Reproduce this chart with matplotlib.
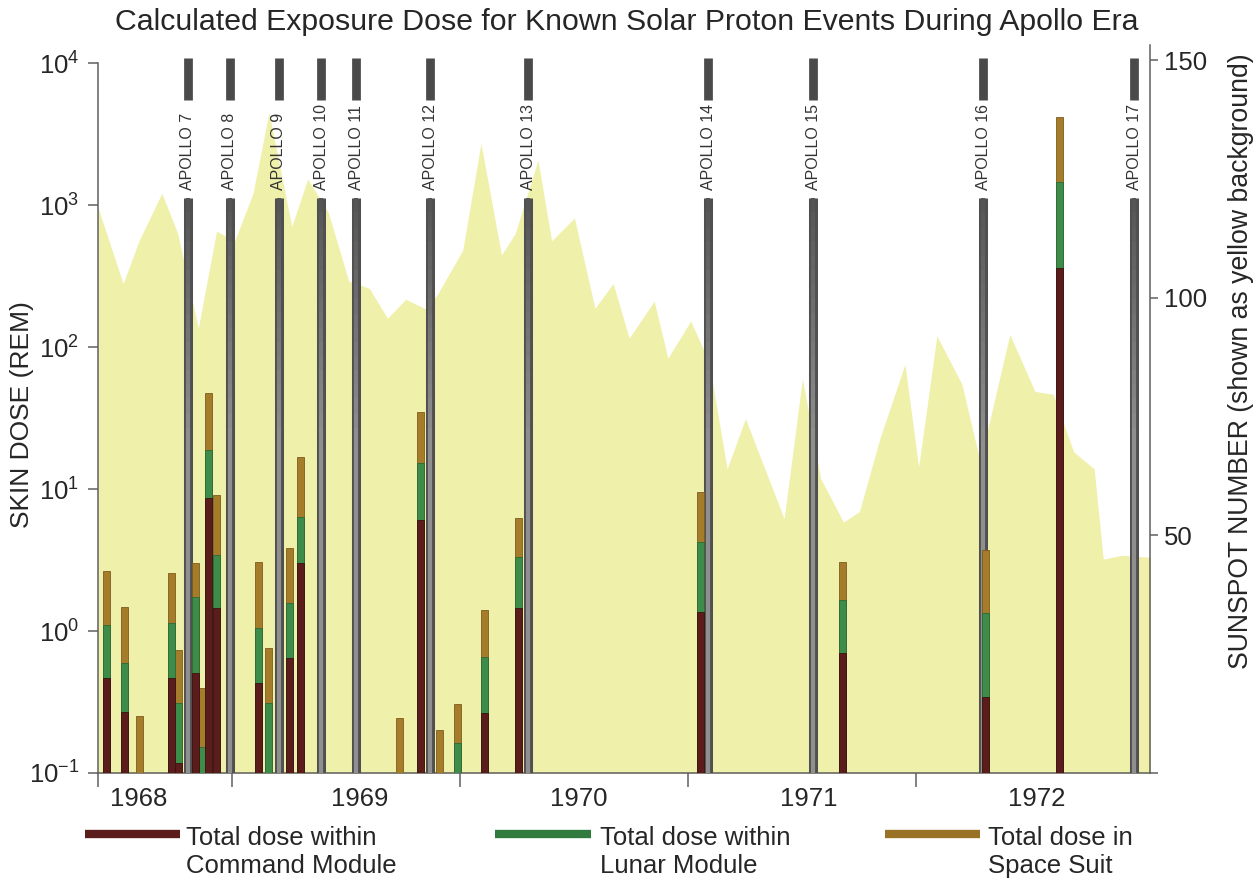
import numpy as np
import matplotlib
matplotlib.use("Agg")
import matplotlib.pyplot as plt
from matplotlib.lines import Line2D
from matplotlib.ticker import NullLocator

plt.rcParams['font.family'] = ['Liberation Sans', 'DejaVu Sans']

# Sunspot number (yellow background)
sun_year = [1968.41, 1968.52, 1968.59, 1968.69, 1968.76, 1968.85, 1968.93, 1969.01,
            1969.09, 1969.16, 1969.26, 1969.33, 1969.42, 1969.51, 1969.60, 1969.68,
            1969.76, 1969.85, 1969.90, 1970.01, 1970.09, 1970.18, 1970.24, 1970.34,
            1970.40, 1970.50, 1970.59, 1970.67, 1970.74, 1970.85, 1970.91, 1971.01,
            1971.09, 1971.17, 1971.25, 1971.42, 1971.50, 1971.58, 1971.68, 1971.75,
            1971.84, 1971.95, 1972.01, 1972.09, 1972.20, 1972.28, 1972.41, 1972.52,
            1972.60, 1972.69, 1972.78, 1972.82, 1972.90, 1973.03]
sun_num = [119, 103, 112, 122, 113.5, 93.6, 114, 112,
           122, 139, 115, 125, 118, 103.5, 102, 95.7,
           99.7, 97.6, 100.8, 110, 132.5, 109, 113.5, 129,
           112, 116.8, 97.8, 103, 91.5, 99.3, 87.3, 95.1,
           86.6, 64, 74.6, 53.5, 83, 62, 52.8, 55,
           70.4, 86, 64.4, 92, 81.8, 65.5, 92.3, 80.3,
           79.7, 67.6, 64, 45, 45.8, 45.4]

# Solar proton events: skin dose (REM); nan = below the axis
event_year = [1968.447, 1968.526, 1968.592, 1968.732, 1968.763, 1968.838, 1968.868,
              1968.895, 1968.930, 1969.114, 1969.158, 1969.250, 1969.298, 1969.732,
              1969.825, 1969.908, 1969.987, 1970.105, 1970.254, 1971.053, 1971.675,
              1972.303, 1972.627]
dose_cm = [0.47, 0.27, np.nan, 0.47, 0.117, 0.51, np.nan,
           8.65, 1.45, 0.43, np.nan, 0.645, 3.01, np.nan,
           6.05, np.nan, np.nan, 0.265, 1.45, 1.36, 0.70,
           0.343, 360]
dose_lm = [1.10, 0.60, np.nan, 1.14, 0.31, 1.73, 0.152,
           18.8, 3.43, 1.05, 0.31, 1.57, 6.35, np.nan,
           15.2, np.nan, 0.163, 0.656, 3.32, 4.24, 1.65,
           1.34, 1452]
dose_suit = [2.65, 1.48, 0.25, 2.56, 0.73, 3.0, 0.40,
             47.4, 9.07, 3.06, 0.76, 3.85, 16.8, 0.244,
             34.8, 0.20, 0.306, 1.41, 6.25, 9.5, 3.06,
             3.72, 4170]

mission_names = ["APOLLO 7", "APOLLO 8", "APOLLO 9", "APOLLO 10", "APOLLO 11", "APOLLO 12",
                 "APOLLO 13", "APOLLO 14", "APOLLO 15", "APOLLO 16", "APOLLO 17"]
mission_year = [1968.803, 1968.987, 1969.202, 1969.390, 1969.544, 1969.868,
                1970.298, 1971.088, 1971.548, 1972.294, 1972.956]

year_ticks = [1968.41, 1969, 1970, 1971, 1972]
year_labels = ["1968", "1969", "1970", "1971", "1972"]
year_label_pos = [1968.59, 1969.56, 1970.52, 1971.53, 1972.53]

legend_labels = ["Total dose within\nCommand Module", "Total dose within\nLunar Module",
                 "Total dose in\nSpace Suit"]

c_cm, c_lm, c_suit = '#5b1c1c', '#3d8c4a', '#a57c2a'
c_yellow = '#eff0aa'
c_axis = '#5f5f5f'
c_text = '#262626'

W, H = 1257, 882
fig = plt.figure(figsize=(W / 100, H / 100), dpi=100)
ax = fig.add_axes([98 / W, 109 / H, 1052 / W, 728 / H])
ax2 = ax.twinx()
ax.set_zorder(ax2.get_zorder() + 1)
ax.patch.set_visible(False)

# sunspot background on the right axis
ax2.fill_between(sun_year, sun_num, 0, color=c_yellow, lw=0)
ax2.set_ylim(0, 153.2)
ax2.set_yticks([0, 50, 100, 150])
ax2.set_yticklabels(['', '50', '100', '150'])

ax.set_yscale('log')
ax.set_ylim(0.1, 10 ** 4.127)
ax.set_xlim(1968.41, 1973.025)
ax.set_yticks([0.1, 1, 10, 100, 1000, 10000])
ax.set_yticklabels([r'$\mathregular{10^{-1}}$', r'$\mathregular{10^{0}}$', r'$\mathregular{10^{1}}$',
                    r'$\mathregular{10^{2}}$', r'$\mathregular{10^{3}}$', r'$\mathregular{10^{4}}$'])
ax.yaxis.set_minor_locator(NullLocator())

# mission markers
xt = ax.get_xaxis_transform()
n_seg = 40
for name, t in zip(mission_names, mission_year):
    ax.axvline(t, 0.9245, 0.982, color='#4a4a4a', lw=6.3, solid_capstyle='butt', zorder=3)
    ax.axvline(t, 0, 0.79, color='#505050', lw=6.5, solid_capstyle='butt', zorder=3)
    for i in range(n_seg):
        f0 = i / n_seg * 0.79
        f1 = (i + 1) / n_seg * 0.79
        k = np.clip((f0 - 0.45) / 0.34, 0, 1)
        g = 0.56 * (1 - k) + 0.32 * k
        ax.axvline(t, f0, f1, color=(g, g, g), lw=3.0, solid_capstyle='butt', zorder=3.1)
    ax.text(t, 0.801, name, transform=xt, rotation=90, ha='center', va='bottom',
            fontsize=11.5, color='#333333', zorder=5)

# dose bars (suit > lunar module > command module)
ev = np.array(event_year)
base = 0.01
for vals, col, ec in [(dose_suit, c_suit, '#7d5c1c'), (dose_lm, c_lm, '#2c6a37'),
                      (dose_cm, c_cm, '#3f1010')]:
    v = np.array(vals, dtype=float)
    m = ~np.isnan(v)
    ax.bar(ev[m], v[m] - base, bottom=base, width=0.031, color=col,
           edgecolor=ec, lw=0.6, zorder=4)

# x axis: year boundaries as ticks, year names in between
ax.set_xticks(year_ticks)
ax.set_xticklabels([''] * len(year_ticks))
ax.set_xticks(year_label_pos, minor=True)
ax.set_xticklabels(year_labels, minor=True)
ax.tick_params(axis='x', which='major', direction='out', length=10, width=1.1, color=c_axis)
ax.tick_params(axis='x', which='minor', length=0, pad=10, labelsize=18.5, labelcolor=c_text)
ax.tick_params(axis='y', which='major', direction='out', length=7.5, width=1.1, color=c_axis,
               pad=6, labelsize=18.5, labelcolor=c_text)
ax2.tick_params(axis='y', direction='out', length=6, width=1.1, color=c_axis, pad=4,
                labelsize=18.5, labelcolor=c_text)

for a in (ax, ax2):
    a.spines['top'].set_visible(False)
ax.spines['right'].set_visible(False)
ax2.spines['left'].set_visible(False)
ax2.spines['bottom'].set_visible(False)
ax.spines['left'].set_bounds(0.1, 1e4)
for s in (ax.spines['left'], ax.spines['bottom'], ax2.spines['right']):
    s.set_color(c_axis)
    s.set_linewidth(1.1)

fig.text(627 / W, 1 - 22 / H, "Calculated Exposure Dose for Known Solar Proton Events During Apollo Era",
         ha='center', va='center', fontsize=21.8, color=c_text)
fig.text(22 / W, 1 - 415 / H, "SKIN DOSE (REM)", rotation=90, ha='center', va='center',
         fontsize=19, color=c_text)
fig.text(1241 / W, 1 - 361 / H, "SUNSPOT NUMBER (shown as yellow background)", rotation=90,
         ha='center', va='center', fontsize=19.2, color=c_text)

# legend drawn by hand below the axis
for lab, col, x0, x1, xtx in zip(legend_labels, [c_cm, '#2f7a3c', '#9a7226'],
                                 [85, 495, 885], [180, 591, 980], [186, 600, 988]):
    fig.add_artist(Line2D([x0 / W, x1 / W], [1 - 834 / H, 1 - 834 / H], color=col, lw=6,
                          solid_capstyle='butt'))
    fig.text(xtx / W, 1 - 852 / H, lab, ha='left', va='center', fontsize=18.5,
             color=c_text, linespacing=1.25)

fig.savefig('out.png', dpi=100)
